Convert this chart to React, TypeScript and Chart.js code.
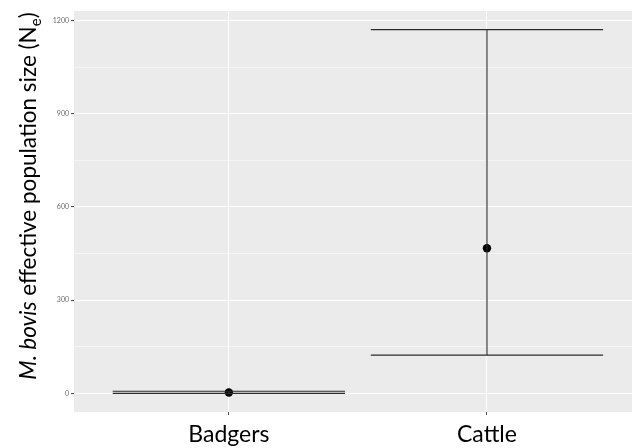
import React, { useEffect, useRef } from "react";
import { Chart, registerables } from "chart.js";
Chart.register(...registerables);

const categories = ["Badgers", "Cattle"];
const estimates = [3, 467];
const lowerCI = [0, 123];
const upperCI = [7, 1171];
const yTicks = [0, 150, 300, 450, 600, 750, 900, 1050, 1200];
const yMajor = [0, 300, 600, 900, 1200];

const FONT = "Lato, 'Open Sans', sans-serif";

export default function App() {
  const ref = useRef<HTMLCanvasElement | null>(null);
  useEffect(() => {
    document.body.style.margin = "0";
    const half = 0.45;
    const datasets: any[] = [];
    categories.forEach((_, i) => {
      const c = i + 1;
      const line = (pts: any[]) => ({
        type: "scatter",
        data: pts,
        showLine: true,
        borderColor: "#2B2B2B",
        borderWidth: 1.1,
        pointRadius: 0,
        fill: false,
      });
      datasets.push(line([{ x: c - half, y: upperCI[i] }, { x: c + half, y: upperCI[i] }]));
      datasets.push(line([{ x: c - half, y: lowerCI[i] }, { x: c + half, y: lowerCI[i] }]));
      datasets.push(line([{ x: c, y: lowerCI[i] }, { x: c, y: upperCI[i] }]));
    });
    datasets.push({
      type: "scatter",
      data: estimates.map((v, i) => ({ x: i + 1, y: v })),
      pointRadius: 4.2,
      pointBackgroundColor: "#000",
      pointBorderColor: "#000",
      pointBorderWidth: 0,
    });

    const bgPlugin = {
      id: "panelBg",
      beforeDraw(chart: any) {
        const { ctx, chartArea: a } = chart;
        ctx.save();
        ctx.fillStyle = "#EBEBEB";
        ctx.fillRect(a.left, a.top, a.right - a.left, a.bottom - a.top);
        ctx.restore();
      },
      afterDraw(chart: any) {
        const { ctx } = chart;
        ctx.save();
        const cx = 36;
        const cy = 196;
        ctx.translate(cx, cy);
        ctx.rotate(-Math.PI / 2);
        ctx.fillStyle = "#000";
        ctx.textBaseline = "alphabetic";
        const size = 22.5;
        const segs = [
          { t: "M. bovis", f: `italic ${size}px ${FONT}`, dy: 0 },
          { t: " effective population size (N", f: `${size}px ${FONT}`, dy: 0 },
          { t: "e", f: `${Math.round(size * 0.65)}px ${FONT}`, dy: 5 },
          { t: ")", f: `${size}px ${FONT}`, dy: 0 },
        ];
        let total = 0;
        const widths = segs.map((s) => {
          ctx.font = s.f;
          const w = ctx.measureText(s.t).width;
          total += w;
          return w;
        });
        let x = -total / 2;
        segs.forEach((s, i) => {
          ctx.font = s.f;
          ctx.fillText(s.t, x, s.dy);
          x += widths[i];
        });
        ctx.restore();
      },
    };

    const chart = new Chart(ref.current as HTMLCanvasElement, {
      type: "scatter",
      data: { datasets },
      plugins: [bgPlugin],
      options: {
        animation: false,
        responsive: false,
        maintainAspectRatio: false,
        layout: { autoPadding: false, padding: { top: 11, right: 0, left: 0, bottom: 0 } },
        plugins: { legend: { display: false }, tooltip: { enabled: false } },
        scales: {
          x: {
            type: "linear",
            min: 0.4,
            max: 2.562,
            afterBuildTicks: (s: any) => {
              s.ticks = categories.map((_, i) => ({ value: i + 1 }));
            },
            afterFit: (s: any) => {
              s.height = 36;
              s.paddingLeft = 0;
              s.paddingRight = 0;
            },
            border: { display: false },
            grid: {
              color: "#FFFFFF",
              lineWidth: 1,
              tickColor: "#4D4D4D",
              tickLength: 3,
              drawTicks: true,
            },
            ticks: {
              callback: (v: any) => categories[Math.round(v) - 1] ?? "",
              font: { family: FONT, size: 23 },
              color: "#000",
              padding: 6,
              maxRotation: 0,
              autoSkip: false,
            },
          },
          y: {
            type: "linear",
            min: -60,
            max: 1231,
            afterBuildTicks: (s: any) => {
              s.ticks = yTicks.map((v) => ({ value: v }));
            },
            afterFit: (s: any) => {
              s.width = 74;
              s.paddingTop = 0;
              s.paddingBottom = 0;
            },
            border: { display: false },
            grid: {
              color: "#FFFFFF",
              lineWidth: (c: any) => (yMajor.includes(c.tick?.value) ? 1.1 : 0.5),
              tickColor: (c: any) => (yMajor.includes(c.tick?.value) ? "#4D4D4D" : "rgba(0,0,0,0)"),
              tickLength: 3,
            },
            ticks: {
              callback: (v: any) => (yMajor.includes(v) ? String(v) : ""),
              font: { family: FONT, size: 7 },
              color: "#6B6B6B",
              padding: 2,
              autoSkip: false,
            },
          },
        },
      } as any,
    });
    return () => chart.destroy();
  }, []);
  return (
    <div style={{ position: "fixed", left: 0, top: 0, width: 632, height: 448, background: "#fff" }}>
      <canvas ref={ref} width={632} height={448} style={{ width: 632, height: 448 }} />
    </div>
  );
}
